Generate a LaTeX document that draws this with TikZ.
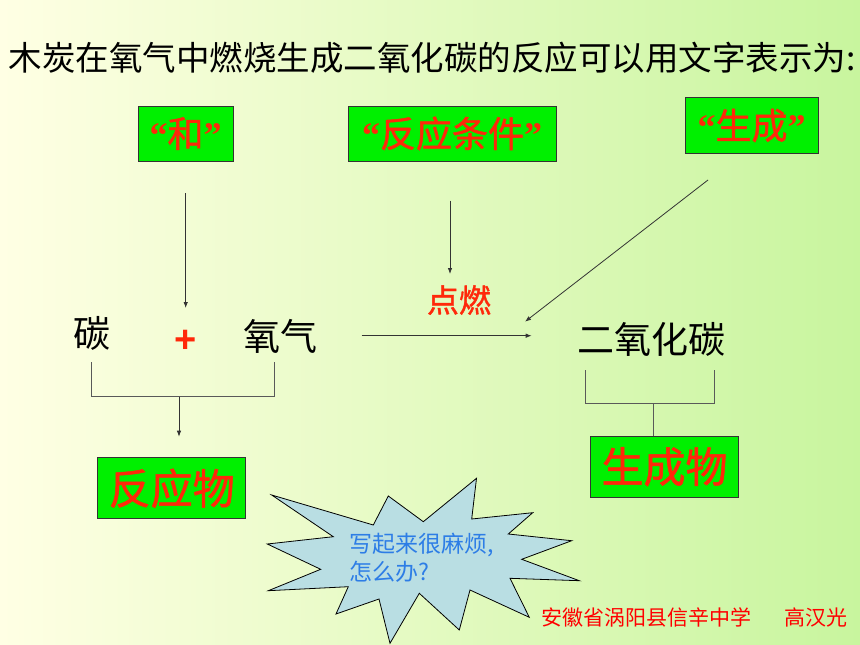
\documentclass[tikz,border=0pt]{standalone}
\usepackage{fontspec}
\setmainfont{Liberation Serif}
\newfontfamily\cjk{Noto Sans CJK SC}
\newfontfamily\cjkred[FakeBold=1.2]{Noto Sans CJK SC}
\newfontfamily\plusfont{Liberation Sans}
\usetikzlibrary{arrows.meta}
\definecolor{boxgreen}{RGB}{0,240,0}
\definecolor{wordred}{RGB}{255,40,10}
\definecolor{burstblue}{RGB}{185,222,227}
\definecolor{burstText}{RGB}{45,125,230}
\definecolor{bgyellow}{RGB}{255,255,228}
\definecolor{bgwhite}{RGB}{252,255,244}
\definecolor{bggreen}{RGB}{200,245,158}
\newcommand\quoted[1]{{\rmfamily\bfseries “}#1{\rmfamily\bfseries ”}}
\begin{document}
\begin{tikzpicture}[x=1pt, y=-1pt, >={Latex[length=6pt,width=4.5pt]},
    wordbox/.style={rectangle, draw=black!80, fill=boxgreen, line width=0.9pt,
      inner sep=0pt, text=wordred, font=\cjkred\fontsize{36}{36}\selectfont},
    bigbox/.style={wordbox, font=\cjkred\fontsize{42}{42}\selectfont},
    chem/.style={inner sep=0pt, font=\cjk\fontsize{37}{37}\selectfont},
    link/.style={draw=black!80, line width=0.8pt},
    bracket/.style={draw=black!65, line width=0.9pt}]
    \useasboundingbox (0,0) rectangle (860,645);
    \shade[left color=bgyellow, middle color=bgwhite, right color=bggreen] (0,0) rectangle (860,645);
    % title
    \node[inner sep=0pt, font=\cjk\fontsize{33.5}{33.5}\selectfont] (title) at (432,58) {木炭在氧气中燃烧生成二氧化碳的反应可以用文字表示为:};
    % the three labels on top
    \node[wordbox, minimum width=95, minimum height=55] (he) at (185.5,133.5) {\quoted{和}};
    \node[wordbox, minimum width=208, minimum height=55] (tiaojian) at (452,133.5) {\quoted{反应条件}};
    \node[wordbox, minimum width=133, minimum height=56] (shengcheng) at (751.5,125.5) {\quoted{生成}};
    % the word equation
    \node[chem] (tan) at (92,333) {碳};
    \node[inner sep=0pt, text=wordred, font=\plusfont\bfseries\fontsize{38}{38}\selectfont] (plus) at (185.7,341) {+};
    \node[chem] (yangqi) at (280,336) {氧气};
    \node[chem] (co2) at (651,339.5) {二氧化碳};
    \node[inner sep=0pt, text=wordred, font=\cjkred\fontsize{32}{32}\selectfont] (dianran) at (459,300) {点燃};
    \node[bigbox, minimum width=148, minimum height=61] (fyw) at (171.7,488.3) {反应物};
    \node[bigbox, minimum width=148, minimum height=61] (scw) at (664.5,466.7) {生成物};
    % arrows
    \coordinate (heA) at (185.7,193);
    \coordinate (heB) at (185.7,308);
    \coordinate (tjA) at (450,200.7);
    \coordinate (tjB) at (450,274);
    \coordinate (scA) at (708,180);
    \coordinate (scB) at (525,321.7);
    \coordinate (eqA) at (361.7,335.7);
    \coordinate (eqB) at (531.7,335.7);
    \draw[link, ->] (heA) -- (heB);
    \draw[link, ->] (tjA) -- (tjB);
    \draw[link, ->] (scA) -- (scB);
    \draw[link, ->] (eqA) -- (eqB);
    % brackets
    \coordinate (lb) at (179,396.7);
    \coordinate (rb) at (653.3,403.3);
    \draw[bracket] (91.7,362) -- (91.7,396.7) -- (274,396.7) -- (274,362);
    \draw[link, ->] (lb) -- (179,436.7);
    \draw[bracket] (585.7,370) -- (585.7,403.3) -- (714.3,403.3) -- (714.3,370);
    \draw[bracket] (rb) -- (rb |- scw.north);
    % the burst
    \draw[fill=burstblue, draw=black, line width=0.8pt, line join=miter]
      (271.7,495) -- (373.3,525) -- (388.3,496) -- (423.3,521.7) -- (476.5,478.3)
      -- (471.7,519) -- (532.7,512.7) -- (508.3,534) -- (571.7,540.7) -- (521.7,559.3)
      -- (579.3,580.7) -- (510,578.3) -- (529.3,617.3) -- (470,590) -- (459.3,630)
      -- (419.3,593.3) -- (390,643.3) -- (379,599) -- (336,614) -- (348.3,586.7)
      -- (268.3,590.7) -- (320.7,569.3) -- (267.3,544) -- (333.3,536.7) -- cycle;
    \node[anchor=west, inner sep=0pt, align=left, text=burstText,
      font=\cjk\fontsize{23}{28}\selectfont] (hard) at (349,558) {写起来很麻烦,\\怎么办?};
    \node[anchor=east, inner sep=0pt, text=red, font=\cjk\fontsize{21}{21}\selectfont] (school) at (848,617) {安徽省涡阳县信辛中学\hspace{33pt}高汉光};
\end{tikzpicture}
\end{document}
